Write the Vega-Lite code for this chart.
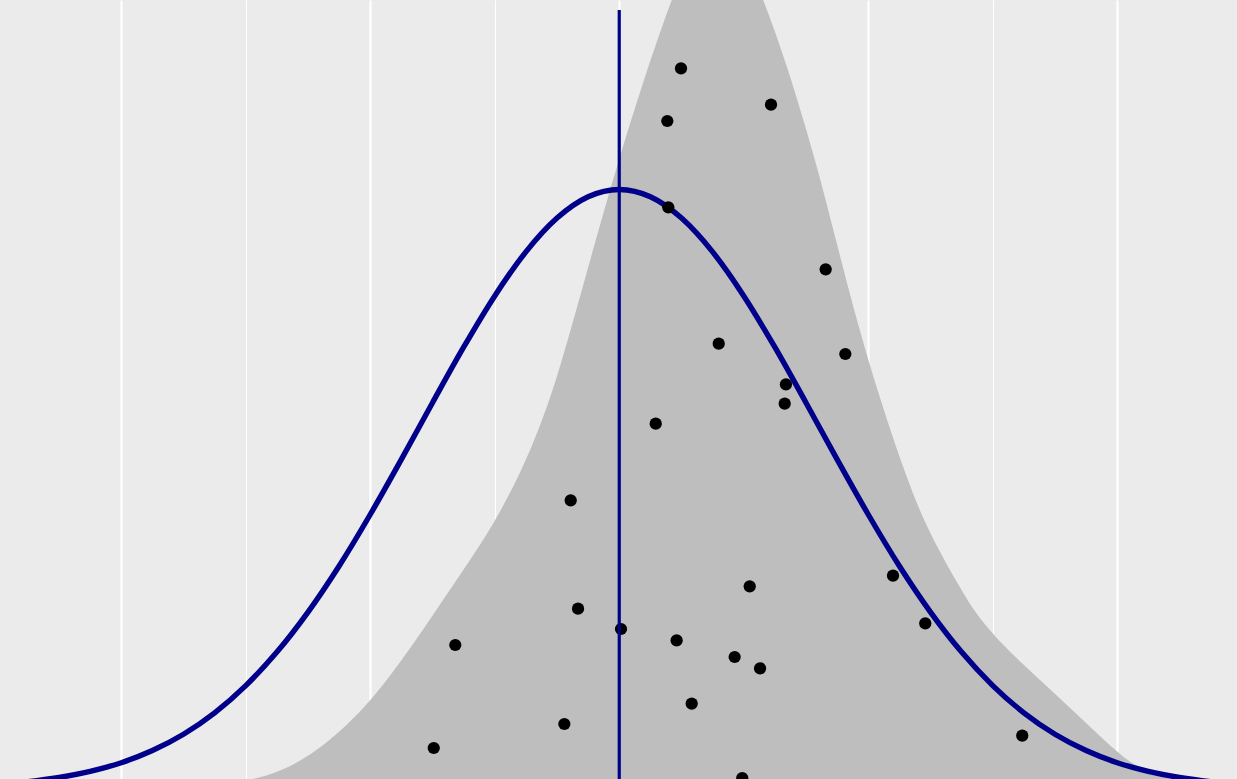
{
  "$schema": "https://vega.github.io/schema/vega-lite/v6.json",
  "width": 1237,
  "height": 779,
  "padding": 0,
  "autosize": {"type": "fit", "contains": "padding"},
  "background": "#EBEBEB",
  "config": {"view": {"fill": "#EBEBEB", "stroke": null}},
  "datasets": {
    "points": [
      {"x": 0.496, "y": 7.207}, {"x": 1.219, "y": 6.843}, {"x": 0.386, "y": 6.68}, {"x": 0.394, "y": 5.817},
      {"x": 1.658, "y": 5.197}, {"x": 0.799, "y": 4.453}, {"x": 1.816, "y": 4.35}, {"x": 1.339, "y": 4.047},
      {"x": 1.329, "y": 3.853}, {"x": 0.293, "y": 3.653}, {"x": -0.39, "y": 2.887}, {"x": -0.331, "y": 1.803},
      {"x": -1.317, "y": 1.44}, {"x": -0.441, "y": 0.65}, {"x": -1.49, "y": 0.41}, {"x": 0.014, "y": 1.6},
      {"x": 1.048, "y": 2.027}, {"x": 0.461, "y": 1.487}, {"x": 0.927, "y": 1.32}, {"x": 1.131, "y": 1.207},
      {"x": 0.582, "y": 0.853}, {"x": 0.988, "y": 0.11}, {"x": 2.199, "y": 2.133}, {"x": 2.458, "y": 1.657},
      {"x": 3.237, "y": 0.533}
    ],
    "curve": [
      {"x": -5, "y": 0.045}, {"x": -4.75, "y": 0.073}, {"x": -4.5, "y": 0.115}, {"x": -4.25, "y": 0.176},
      {"x": -4, "y": 0.263}, {"x": -3.75, "y": 0.385}, {"x": -3.5, "y": 0.548}, {"x": -3.25, "y": 0.762},
      {"x": -3, "y": 1.034}, {"x": -2.75, "y": 1.369}, {"x": -2.5, "y": 1.769}, {"x": -2.25, "y": 2.23},
      {"x": -2, "y": 2.745}, {"x": -1.75, "y": 3.296}, {"x": -1.5, "y": 3.863}, {"x": -1.25, "y": 4.418},
      {"x": -1, "y": 4.931}, {"x": -0.75, "y": 5.371}, {"x": -0.5, "y": 5.709}, {"x": -0.25, "y": 5.922},
      {"x": 0, "y": 5.995},
      {"x": 0.25, "y": 5.922}, {"x": 0.5, "y": 5.709}, {"x": 0.75, "y": 5.371}, {"x": 1, "y": 4.931},
      {"x": 1.25, "y": 4.418}, {"x": 1.5, "y": 3.863}, {"x": 1.75, "y": 3.296}, {"x": 2, "y": 2.745},
      {"x": 2.25, "y": 2.23}, {"x": 2.5, "y": 1.769}, {"x": 2.75, "y": 1.369}, {"x": 3, "y": 1.034},
      {"x": 3.25, "y": 0.762}, {"x": 3.5, "y": 0.548}, {"x": 3.75, "y": 0.385}, {"x": 4, "y": 0.263},
      {"x": 4.25, "y": 0.176}, {"x": 4.5, "y": 0.115}, {"x": 4.75, "y": 0.073}, {"x": 5, "y": 0.045}
    ],
    "density": [
      {"x": -4.974, "y": 0}, {"x": -3.769, "y": 0.01}, {"x": -3.287, "y": 0.04}, {"x": -2.832, "y": 0.1},
      {"x": -2.43, "y": 0.357}, {"x": -2.029, "y": 0.823}, {"x": -1.761, "y": 1.26}, {"x": -1.496, "y": 1.74},
      {"x": -1.225, "y": 2.24}, {"x": -0.984, "y": 2.69}, {"x": -0.69, "y": 3.423}, {"x": -0.476, "y": 4.19},
      {"x": -0.235, "y": 5.29}, {"x": -0.018, "y": 6.24}, {"x": 0.196, "y": 7.09}, {"x": 0.416, "y": 7.89},
      {"x": 0.568, "y": 8.34}, {"x": 0.785, "y": 8.51}, {"x": 1.01, "y": 8.34}, {"x": 1.159, "y": 7.89},
      {"x": 1.334, "y": 7.294}, {"x": 1.587, "y": 6.25}, {"x": 1.776, "y": 5.31}, {"x": 1.998, "y": 4.264},
      {"x": 2.309, "y": 3.09}, {"x": 2.496, "y": 2.54}, {"x": 2.753, "y": 1.98}, {"x": 2.857, "y": 1.77},
      {"x": 3.0, "y": 1.55}, {"x": 3.138, "y": 1.37}, {"x": 3.433, "y": 1.03}, {"x": 3.725, "y": 0.69},
      {"x": 3.998, "y": 0.37}, {"x": 4.127, "y": 0.245}, {"x": 4.343, "y": 0.12}, {"x": 4.584, "y": 0.05},
      {"x": 4.962, "y": 0.005}
    ],
    "vline": [{"x": 0, "ytop": 7.79, "ybot": 0}]
  },
  "encoding": {
    "x": {
      "type": "quantitative",
      "scale": {"domain": [-4.974, 4.962], "nice": false, "zero": false},
      "axis": {
        "values": [-4, -3, -2, -1, 0, 1, 2, 3, 4],
        "labels": false, "ticks": false, "domain": false, "title": null,
        "grid": true, "gridColor": "#FFFFFF", "gridOpacity": 1,
        "gridWidth": {"condition": {"test": "datum.value % 2 === 0", "value": 2.2}, "value": 1.1}
      }
    }
  },
  "layer": [
    {
      "data": {"name": "density"},
      "mark": {"type": "area", "color": "#BEBEBE", "opacity": 1, "interpolate": "basis", "clip": true},
      "encoding": {
        "x": {"field": "x", "type": "quantitative"},
        "y": {"field": "y", "type": "quantitative", "scale": {"domain": [0.1, 7.89], "nice": false, "zero": false}, "axis": null},
        "y2": {"datum": 0}
      }
    },
    {
      "data": {"name": "curve"},
      "mark": {"type": "line", "color": "#00008B", "strokeWidth": 5.4, "interpolate": "monotone", "clip": true},
      "encoding": {
        "x": {"field": "x", "type": "quantitative"},
        "y": {"field": "y", "type": "quantitative"}
      }
    },
    {
      "data": {"name": "points"},
      "mark": {"type": "circle", "color": "#000000", "opacity": 1, "size": 150, "clip": true},
      "encoding": {
        "x": {"field": "x", "type": "quantitative"},
        "y": {"field": "y", "type": "quantitative"}
      }
    },
    {
      "data": {"name": "vline"},
      "mark": {"type": "rule", "color": "#00008B", "strokeWidth": 3.2, "clip": true},
      "encoding": {
        "x": {"field": "x", "type": "quantitative"},
        "y": {"field": "ytop", "type": "quantitative"},
        "y2": {"field": "ybot"}
      }
    }
  ]
}
